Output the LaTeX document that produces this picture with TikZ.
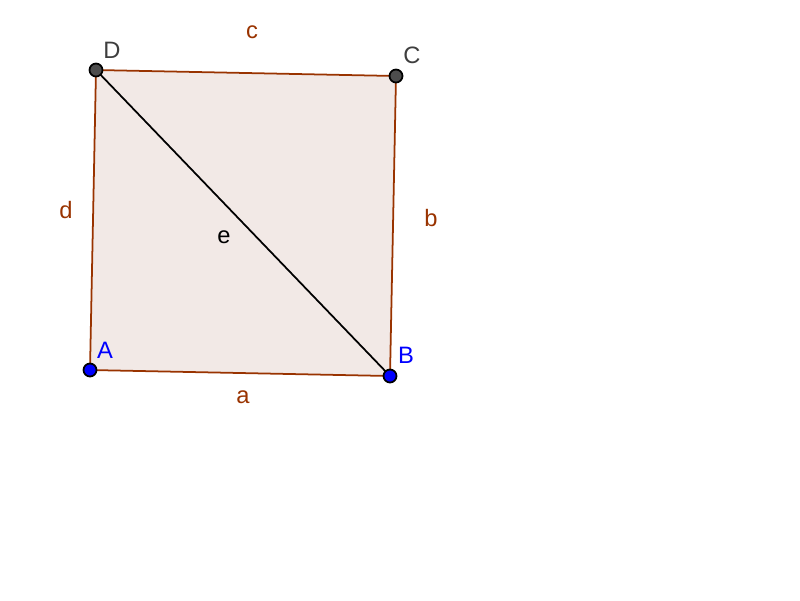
\documentclass[tikz,border=0pt]{standalone}
\usepackage{fontspec}
\setmainfont{Liberation Sans}
\definecolor{edge}{RGB}{153,51,0}
\definecolor{fillc}{RGB}{242,233,230}
\definecolor{ptblue}{RGB}{0,0,255}
\definecolor{ptgray}{RGB}{77,77,77}
\begin{document}
\begin{tikzpicture}[x=0.02cm,y=-0.02cm,
  pt/.style={circle,draw=black,line width=1pt,inner sep=0pt,minimum size=13*0.02cm},
  lbl/.style={font=\fontsize{13.5}{15}\selectfont},
  side/.style={draw=edge,line width=1pt}]
\useasboundingbox (0,0) rectangle (800,600);
\coordinate (A) at (90,370);
\coordinate (B) at (390,376);
\coordinate (C) at (396,76);
\coordinate (D) at (96,70);
\fill[fillc] (A) -- (B) -- (C) -- (D) -- cycle;
\draw[side] (A) -- (B);
\draw[side] (B) -- (C);
\draw[side] (C) -- (D);
\draw[side] (D) -- (A);
\draw[black,line width=1pt] (D) -- (B);
\node[pt,fill=ptblue] (pA) at (A) {};
\node[pt,fill=ptblue] (pB) at (B) {};
\node[pt,fill=ptgray] (pC) at (C) {};
\node[pt,fill=ptgray] (pD) at (D) {};
\node[lbl,text=ptblue] (lA) at (105,350) {A};
\node[lbl,text=ptblue] (lB) at (406,355) {B};
\node[lbl,text=ptgray!80!black] (lC) at (412,55) {C};
\node[lbl,text=ptgray!80!black] (lD) at (112,50) {D};
\node[lbl,text=edge] (la) at (243,397) {a};
\node[lbl,text=edge] (lb) at (431,218) {b};
\node[lbl,text=edge] (lc) at (252,32) {c};
\node[lbl,text=edge] (ld) at (66,210) {d};
\node[lbl,text=black] (le) at (224,237) {e};
\end{tikzpicture}
\end{document}
